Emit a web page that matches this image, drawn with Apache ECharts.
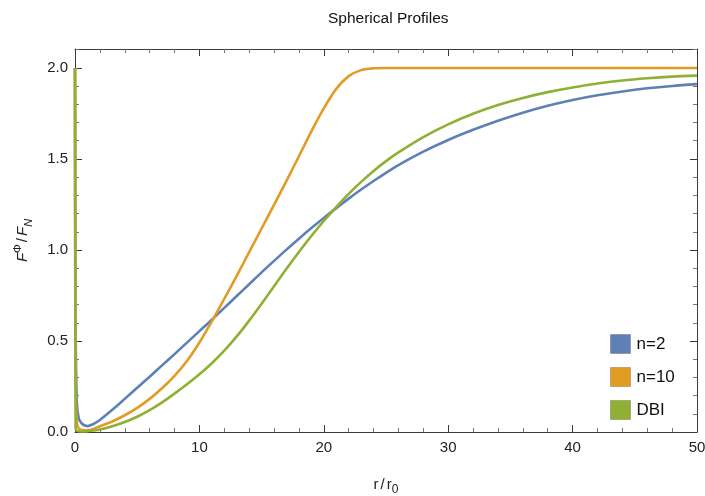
<!DOCTYPE html>
<html><head><meta charset="utf-8">
<script src="https://cdn.jsdelivr.net/npm/echarts/dist/echarts.min.js"></script>
<style>html,body{margin:0;padding:0;background:#fff}#c{width:705px;height:496px}</style>
</head><body><div id="c"></div>
<script>
const rValues   = [0, 0.05, 0.15, 0.3, 0.5, 0.75, 1, 1.5, 2, 3, 4, 5, 6, 7, 8, 9, 10, 11, 12, 13, 14, 15, 16, 17, 18, 19, 20, 21, 22, 23, 24, 25, 26, 28, 30, 32, 34, 36, 38, 40, 42, 44, 46, 48, 50];
const n2Values  = [2.0, 0.6, 0.16, 0.075, 0.05, 0.037, 0.032, 0.045, 0.066, 0.122, 0.182, 0.243, 0.304, 0.366, 0.428, 0.491, 0.554, 0.617, 0.682, 0.747, 0.812, 0.877, 0.94, 1.002, 1.062, 1.12, 1.176, 1.23, 1.282, 1.332, 1.379, 1.424, 1.466, 1.54, 1.604, 1.66, 1.71, 1.754, 1.792, 1.824, 1.85, 1.871, 1.888, 1.901, 1.911];
const n10Values = [2.0, 0.3, 0.05, 0.02, 0.012, 0.01, 0.01, 0.018, 0.032, 0.058, 0.092, 0.133, 0.182, 0.24, 0.308, 0.39, 0.492, 0.608, 0.732, 0.858, 0.988, 1.118, 1.248, 1.38, 1.515, 1.652, 1.778, 1.885, 1.955, 1.988, 1.998, 2.0, 2.0, 2.0, 2.0, 2.0, 2.0, 2.0, 2.0, 2.0, 2.0, 2.0, 2.0, 2.0, 2.0];
const dbiValues = [2.0, 0.02, 0.006, 0.004, 0.003, 0.003, 0.004, 0.008, 0.014, 0.032, 0.055, 0.084, 0.12, 0.163, 0.211, 0.262, 0.317, 0.378, 0.447, 0.525, 0.612, 0.705, 0.801, 0.897, 0.989, 1.077, 1.159, 1.236, 1.308, 1.374, 1.434, 1.488, 1.536, 1.62, 1.69, 1.748, 1.796, 1.835, 1.867, 1.893, 1.914, 1.931, 1.943, 1.952, 1.958];
const seriesNames = ['n=2', 'n=10', 'DBI'];
const seriesColors = ['#5E81B5', '#E19C24', '#8FB032'];
const xTicks = [0, 10, 20, 30, 40, 50];
const yTicks = [0, 0.5, 1.0, 1.5, 2.0];

const allValues = [n2Values, n10Values, dbiValues];
const font = 'Liberation Sans, Arial, sans-serif';
const frameColor = '#3a3a3a';
const textColor = '#222';

function axisCommon() {
  return {
    axisLine: {show: true, onZero: false, lineStyle: {color: frameColor, width: 1}},
    axisTick: {show: true, inside: true, length: 7, lineStyle: {color: frameColor}},
    minorTick: {show: true, splitNumber: 5, length: 4, lineStyle: {color: '#777'}},
    splitLine: {show: false},
    minorSplitLine: {show: false}
  };
}

const chart = echarts.init(document.getElementById('c'), null, {renderer: 'canvas'});
const option = {
  animation: false,
  backgroundColor: '#fff',
  textStyle: {fontFamily: font},
  title: {
    text: 'Spherical Profiles', left: 323, top: 6,
    textStyle: {fontSize: 15.5, fontWeight: 'normal', color: '#111', fontFamily: font}
  },
  grid: {left: 75, right: 8, top: 49, bottom: 64, containLabel: false, outerBoundsMode: 'none'},
  legend: {
    orient: 'vertical', left: 605, top: 329,
    itemWidth: 20, itemHeight: 19, itemGap: 13,
    icon: 'rect',
    itemStyle: {borderColor: 'rgba(0,0,0,0.2)', borderWidth: 1},
    textStyle: {fontSize: 17, color: '#111', fontFamily: font, padding: [0, 0, 0, 1]},
    data: seriesNames
  },
  xAxis: [
    Object.assign(axisCommon(), {
      type: 'value', position: 'bottom', min: xTicks[0], max: xTicks[xTicks.length - 1], interval: 10,
      axisLabel: {show: true, fontSize: 15, color: textColor, margin: 8, fontFamily: font},
      name: '{r|r}{s|/}{r|r}{sub|0}', nameLocation: 'middle', nameGap: 42,
      nameTextStyle: {
        rich: {
          r: {fontSize: 15, color: textColor, fontFamily: font, lineHeight: 22},
          s: {fontSize: 15, color: textColor, fontFamily: font, lineHeight: 22, padding: [0, 2, 0, 2]},
          sub: {fontSize: 12, color: textColor, fontFamily: font, lineHeight: 22, verticalAlign: 'bottom', padding: [7, 0, 0, 0]}
        }
      }
    }),
    Object.assign(axisCommon(), {
      type: 'value', position: 'top', min: xTicks[0], max: xTicks[xTicks.length - 1], interval: 10,
      axisLabel: {show: false}
    })
  ],
  yAxis: [
    Object.assign(axisCommon(), {
      type: 'value', position: 'left', min: 0, max: 2.104, interval: 0.5,
      axisLabel: {show: true, fontSize: 15, color: textColor, margin: 7, fontFamily: font, showMaxLabel: false,
        formatter: v => (yTicks.indexOf(Math.round(v * 10) / 10) >= 0 ? v.toFixed(1) : '')},
      name: '{i|F}{sup|Φ}{s|/}{i|F}{sub|N}', nameLocation: 'middle', nameGap: 41,
      nameTextStyle: {
        rich: {
          i: {fontSize: 15, fontStyle: 'italic', color: textColor, fontFamily: font, lineHeight: 22},
          s: {fontSize: 15, color: textColor, fontFamily: font, lineHeight: 22, padding: [0, 2, 0, 2]},
          sup: {fontSize: 11, color: textColor, fontFamily: font, lineHeight: 22, verticalAlign: 'top', padding: [0, 0, 7, 0]},
          sub: {fontSize: 11, fontStyle: 'italic', color: textColor, fontFamily: font, lineHeight: 22, verticalAlign: 'bottom', padding: [7, 0, 0, 0]}
        }
      }
    }),
    Object.assign(axisCommon(), {
      type: 'value', position: 'right', min: 0, max: 2.104, interval: 0.5,
      axisLabel: {show: false}
    })
  ],
  series: seriesNames.map((nm, k) => ({
    name: nm, type: 'line', xAxisIndex: 0, yAxisIndex: 0,
    data: rValues.map((r, i) => [r, allValues[k][i]]),
    showSymbol: false, symbol: 'none',
    smooth: 0.3,
    clip: true,
    color: seriesColors[k],
    lineStyle: {color: seriesColors[k], width: 2.6},
    itemStyle: {color: seriesColors[k]},
    z: 2 + k
  }))
};
chart.setOption(option);
</script>
</body></html>
